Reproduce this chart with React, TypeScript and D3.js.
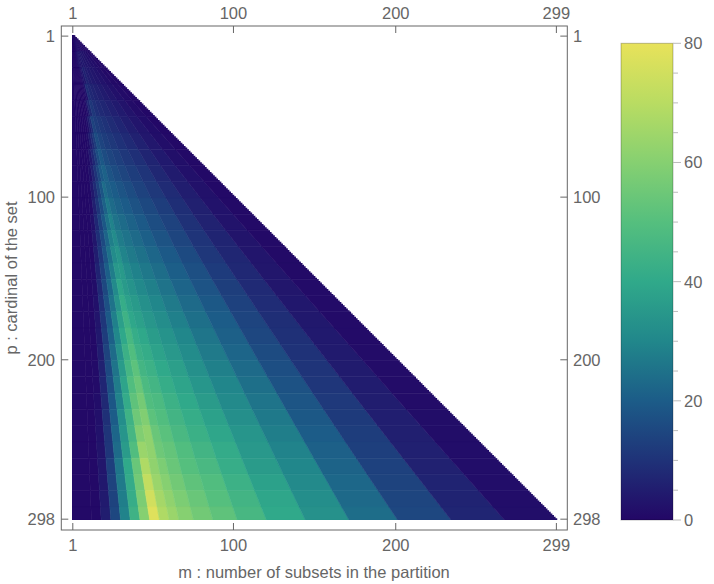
import * as d3 from 'd3';

// rows of the matrix are bands of 10 values of p, columns are slices of m / p
const bandStart = d3.range(1, 299, 10);
const colEdges = [0, 0.04, 0.06, 0.08, 0.1, 0.12, 0.14, 0.16, 0.18, 0.2, 0.22, 0.25, 0.29, 0.34, 0.4, 0.48, 0.57, 0.67, 0.78, 0.89, 1.0];

// values, one row per band (top to bottom)
const values = [
  [0.5, 0.5, 0.5, 0.5, 0.5, 0.5, 0.5, 0.5, 0.5, 0.8, 1, 1.2, 1.4, 1.5, 1.4, 1.2, 1, 0.8, 0.6, 0.4],
  [0.5, 0.5, 0.5, 0.5, 0.5, 0.5, 0.8, 1, 1.5, 2, 2.5, 3, 3.5, 4, 3.5, 3, 2.2, 1.4, 0.7, 0.3],
  [0.5, 0.5, 0.5, 0.5, 0.5, 0.5, 0.5, 0.5, 0.8, 1.2, 2.2, 4, 6.4, 5.1, 4.3, 3.5, 2.7, 1.7, 0.8, 0.2],
  [0.5, 0.5, 0.5, 0.5, 0.5, 0.5, 0.5, 0.5, 0.5, 0.8, 2.5, 9, 7.6, 6.7, 5.8, 4.7, 3.5, 2.2, 1, 0.3],
  [0.5, 0.5, 0.5, 0.5, 0.5, 0.5, 0.5, 0.5, 1.1, 4, 7.9, 11.4, 9.3, 8.2, 7.1, 5.9, 4.4, 2.7, 1.2, 0.3],
  [0.5, 0.5, 0.5, 0.5, 0.5, 0.5, 0.5, 1.7, 4.9, 8.2, 14, 12.3, 11.1, 9.9, 8.5, 7, 5.2, 3.2, 1.4, 0.3],
  [0.5, 0.5, 0.5, 0.5, 0.5, 0.5, 1.3, 4.7, 8.3, 12.1, 16.5, 14.2, 12.7, 11.4, 9.8, 8.1, 6, 3.7, 1.6, 0.4],
  [0.5, 0.5, 0.5, 0.5, 0.5, 1, 3.7, 7.5, 11.6, 15.9, 19, 16.1, 14.6, 13, 11.1, 9.3, 6.7, 4.3, 1.9, 0.4],
  [0.5, 0.5, 0.5, 0.5, 0.5, 1.9, 6, 10.4, 15, 19.4, 21.5, 18, 16.3, 14.6, 12.5, 10.4, 7.4, 4.7, 2.1, 0.5],
  [0.5, 0.5, 0.5, 0.5, 0.5, 3.9, 8.4, 13.3, 18.4, 24, 21.4, 19.9, 18, 16.1, 13.8, 11.5, 8.3, 5.2, 2.3, 0.5],
  [0.5, 0.5, 0.5, 0.5, 1, 5.6, 10.5, 16, 21.5, 26.5, 23.4, 21.5, 19.8, 17.7, 15.2, 12.5, 9, 5.7, 2.6, 0.6],
  [0.5, 0.5, 0.5, 0.5, 2.2, 7.5, 13.1, 18.9, 24.8, 29, 25.3, 23.4, 21.5, 19.2, 16.5, 13.7, 9.7, 6.2, 2.8, 0.6],
  [0.5, 0.5, 0.5, 0.5, 3.4, 9.3, 15.4, 21.9, 28.1, 31.5, 27.5, 25.3, 23.2, 20.7, 17.8, 14.6, 10.5, 6.8, 3, 0.7],
  [0.5, 0.5, 0.5, 0.5, 5, 11, 17.9, 24.7, 31.5, 34, 29.3, 27, 24.9, 22.3, 19.2, 15.7, 11.3, 7.3, 3.3, 0.7],
  [0.5, 0.5, 0.5, 1, 6.5, 13.2, 20.4, 27.7, 35, 35.5, 31.4, 28.9, 26.5, 24, 20.4, 16.9, 12.2, 7.7, 3.4, 0.8],
  [0.5, 0.5, 0.5, 1.3, 8, 15.3, 22.9, 30.9, 39, 35.5, 33.4, 30.7, 28.3, 25.4, 21.8, 17.9, 12.8, 8.2, 3.6, 0.9],
  [0.5, 0.5, 0.5, 2.2, 9.4, 17.2, 25.3, 33.7, 41.6, 37.5, 35.5, 32.6, 30, 27, 23.2, 19, 13.6, 8.7, 3.8, 0.9],
  [0.5, 0.5, 0.5, 3.3, 11, 19.4, 28.4, 37, 44, 39.3, 37.4, 34.4, 31.8, 28.4, 24.4, 20, 14.2, 9, 4, 1],
  [0.5, 0.5, 0.5, 4, 12.3, 21, 30.3, 39.6, 46.6, 41.6, 39.6, 36.3, 33.6, 30, 25.8, 21, 15, 9.5, 4.3, 1],
  [0.5, 0.5, 0.5, 4.8, 14, 23.5, 33.3, 43.3, 49, 43.3, 41.4, 38, 35, 31.4, 27, 22.2, 15.9, 10, 4.5, 1.1],
  [0.5, 0.5, 1, 6, 15.5, 25.5, 35.8, 46, 51.6, 45.5, 43.6, 40, 37, 32.7, 28.3, 23.3, 16.7, 10.5, 4.7, 1.1],
  [0.5, 0.5, 1, 7, 17, 27.4, 38.4, 49, 54, 47.7, 45.4, 41.6, 38.4, 34.3, 29.7, 24.4, 17.5, 11, 4.9, 1.2],
  [0.5, 0.5, 1.5, 8, 18.5, 29, 41, 52, 56.6, 49, 47.5, 43.5, 40, 36, 31, 25.6, 18.3, 11.6, 5.2, 1.2],
  [0.5, 0.5, 2, 9.5, 20, 32, 44, 55, 59, 51.5, 49, 45, 41.7, 37.5, 32.4, 26.7, 19, 12, 5.4, 1.3],
  [0.5, 0.5, 2.5, 10.6, 22, 34, 46, 59, 62, 54, 51, 47, 43, 39, 34, 28, 20, 12.6, 5.6, 1.3],
  [0.5, 0.5, 3, 11, 23.5, 36, 49, 64, 62, 55, 53, 49, 45, 41, 35, 29, 21, 13, 5.9, 1.4],
  [0.5, 0.5, 3.5, 13, 26, 40, 54, 68, 62, 58, 54, 50, 47, 42, 36, 30, 21.6, 13.5, 6.1, 1.4],
  [0.5, 0.5, 4, 14, 27, 41, 56, 72, 64, 60, 56, 52, 49, 43.5, 37.5, 31, 22.5, 14, 6.4, 1.5],
  [0.5, 0.5, 4.5, 14, 28, 42, 58, 75, 66, 62, 58, 54, 50, 45, 39, 32, 23, 14.5, 6.6, 1.5],
  [0.5, 0.5, 5, 15, 29, 44, 60, 78, 68, 64, 60, 56, 52, 46.5, 40, 33, 24, 15, 7, 1.6],
];

const pCount = 298;
const mCount = 299;
const xTicks = [1, 100, 200, 299];
const yTicks = [1, 100, 200, 298];
const legendTicks = [0, 20, 40, 60, 80];
const legendMinor = d3.range(0, 81, 5);
const colorStops = [0, 10, 20, 30, 40, 50, 60, 70, 80];
const colorList = ['#230766', '#1f3278', '#1c5c88', '#21878b', '#30a98a', '#55bf7e', '#86d071', '#b9dc62', '#e8e25a'];

const FONT = 'Arial, "Liberation Sans", sans-serif';
const GRAY = '#666';
const FS = 16.5;

export default function App() {
  const x = d3.scaleLinear().domain([0.5, mCount + 0.5]).range([72, 557.2]);
  const y = d3.scaleLinear().domain([0.5, pCount + 0.5]).range([35.3, 520]);
  const color = d3.scaleLinear<string>().domain(colorStops).range(colorList).clamp(true);
  const leg = d3.scaleLinear().domain([0, 80]).range([520, 43.3]);

  // staircase outline of the filled part: row p holds columns 1 .. p+1
  const tri = d3.path();
  tri.moveTo(x(0.5), y(0.5));
  d3.range(1, pCount + 1).forEach(p => {
    tri.lineTo(x(p + 1.5), y(p - 0.5));
    tri.lineTo(x(p + 1.5), y(p + 0.5));
  });
  tri.lineTo(x(0.5), y(pCount + 0.5));
  tri.closePath();

  const cells: JSX.Element[] = [];
  bandStart.forEach((p0, b) => {
    const p1 = Math.min((bandStart[b + 1] ?? pCount + 1) - 1, pCount);
    const sTop = p0 + 0.5;
    const sBot = p1 + 1.5;
    const last = colEdges.length - 2;
    values[b].forEach((v, c) => {
      const e0 = colEdges[c];
      const e1 = colEdges[c + 1];
      const pad = c === last ? 1 : 0;
      const pts: [number, number][] = [
        [x(0.5 + e0 * sTop), y(p0 - 0.5)],
        [x(0.5 + e1 * sTop + pad), y(p0 - 0.5)],
        [x(0.5 + e1 * sBot + pad), y(p1 + 0.5)],
        [x(0.5 + e0 * sBot), y(p1 + 0.5)],
      ];
      const fill = color(v);
      cells.push(
        <polygon key={b + '-' + c} points={pts.map(d => d.join(',')).join(' ')}
          fill={fill} stroke={fill} strokeWidth={0.6} strokeLinejoin="round" />
      );
    });
  });

  const frame = { l: 61.3, r: 567.3, t: 26, b: 530 };

  return (
    <svg width={714} height={584} style={{ position: 'absolute', left: 0, top: 0 }} fontFamily={FONT}>
      <defs>
        <linearGradient id="lg" x1="0" y1="1" x2="0" y2="0">
          {colorStops.map((s, i) => (
            <stop key={s} offset={s / 80} stopColor={colorList[i]} />
          ))}
        </linearGradient>
        <clipPath id="tri">
          <path d={tri.toString()} />
        </clipPath>
      </defs>
      <g clipPath="url(#tri)">{cells}</g>

      <rect x={frame.l} y={frame.t} width={frame.r - frame.l} height={frame.b - frame.t}
        fill="none" stroke={GRAY} strokeWidth={1} />

      {xTicks.map(t => (
        <g key={'x' + t}>
          <line x1={x(t)} x2={x(t)} y1={frame.b} y2={frame.b - 7} stroke={GRAY} />
          <line x1={x(t)} x2={x(t)} y1={frame.t} y2={frame.t + 7} stroke={GRAY} />
          <text x={x(t)} y={550.5} textAnchor="middle" fontSize={FS} fill={GRAY}>{t}</text>
          <text x={x(t)} y={19} textAnchor="middle" fontSize={FS} fill={GRAY}>{t}</text>
        </g>
      ))}
      {yTicks.map(t => (
        <g key={'y' + t}>
          <line x1={frame.l} x2={frame.l + 7} y1={y(t)} y2={y(t)} stroke={GRAY} />
          <line x1={frame.r} x2={frame.r - 7} y1={y(t)} y2={y(t)} stroke={GRAY} />
          <text x={55} y={y(t)} dy="0.36em" textAnchor="end" fontSize={FS} fill={GRAY}>{t}</text>
          <text x={573} y={y(t)} dy="0.36em" textAnchor="start" fontSize={FS} fill={GRAY}>{t}</text>
        </g>
      ))}

      <text x={314} y={578} textAnchor="middle" fontSize={FS} fill={GRAY}>m : number of subsets in the partition</text>
      <text transform="translate(17,278) rotate(-90)" textAnchor="middle" fontSize={FS} fill={GRAY}>p : cardinal of the set</text>

      <rect x={621} y={leg(80)} width={52} height={leg(0) - leg(80)} fill="url(#lg)" stroke="rgba(0,0,0,0.25)" />
      {legendMinor.map(t => (
        <line key={'m' + t} x1={673} x2={legendTicks.includes(t) ? 681 : 678} y1={leg(t)} y2={leg(t)} stroke="#bbb" />
      ))}
      {legendTicks.map(t => (
        <text key={'l' + t} x={684} y={leg(t)} dy="0.36em" fontSize={FS} fill={GRAY}>{t}</text>
      ))}
    </svg>
  );
}
